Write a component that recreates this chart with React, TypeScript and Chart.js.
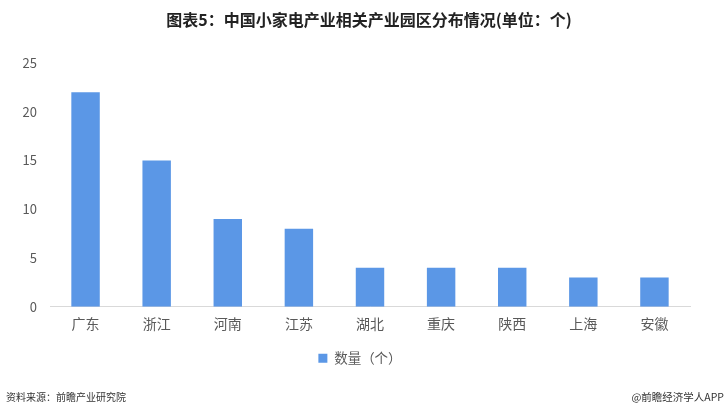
import React, { useEffect, useRef } from "react";
import { Chart, registerables } from "chart.js";

Chart.register(...registerables);

const categories = ["广东", "浙江", "河南", "江苏", "湖北", "重庆", "陕西", "上海", "安徽"];
const counts = [22, 15, 9, 8, 4, 4, 4, 3, 3];
const yTicks = [0, 5, 10, 15, 20, 25];
const seriesLabel = "数量（个）";
const titleText = "图表5：中国小家电产业相关产业园区分布情况(单位：个)";
const sourceText = "资料来源：前瞻产业研究院";
const brandText = "@前瞻经济学人APP";

const FONT = "'Noto Sans CJK SC', 'Microsoft YaHei', sans-serif";

export default function App() {
  const ref = useRef<HTMLCanvasElement | null>(null);
  useEffect(() => {
    document.body.style.margin = "0";
    const canvas = ref.current!;
    const textPlugin = {
      id: "texts",
      afterLayout(chart: any) {
        const lg = chart.legend;
        if (lg) {
          lg.left += 15;
          lg.right += 15;
        }
      },
      afterDraw(chart: any) {
        const ctx = chart.ctx;
        ctx.save();
        ctx.fillStyle = "#222";
        ctx.font = `bold 16px ${FONT}`;
        ctx.textAlign = "center";
        ctx.textBaseline = "middle";
        ctx.fillText(titleText, 369, 20);
        ctx.font = `10px ${FONT}`;
        ctx.fillStyle = "#333";
        ctx.textAlign = "left";
        ctx.fillText(sourceText, 6, 397);
        ctx.font = `10.5px ${FONT}`;
        ctx.textAlign = "right";
        ctx.fillText(brandText, 724, 397);
        ctx.restore();
      },
    };
    const chart = new Chart(canvas, {
      type: "bar",
      data: {
        labels: categories,
        datasets: [
          {
            label: seriesLabel,
            data: counts,
            backgroundColor: "#5B97E6",
            barPercentage: 0.4,
            categoryPercentage: 1,
          },
        ],
      },
      options: {
        responsive: false,
        animation: false,
        layout: { padding: { top: 63, right: 37, left: 0, bottom: 44 } },
        plugins: {
          legend: {
            position: "bottom",
            labels: {
              boxWidth: 9,
              boxHeight: 9,
              color: "#595959",
              font: { family: FONT, size: 13.5 },
              padding: 10,
            },
          },
          tooltip: { enabled: false },
        },
        scales: {
          x: {
            grid: { display: false, drawTicks: false },
            border: { display: true, color: "#d9d9d9" },
            ticks: { color: "#595959", font: { family: FONT, size: 14 }, padding: 9 },
          },
          y: {
            min: 0,
            max: 25,
            afterBuildTicks(axis: any) {
              axis.ticks = yTicks.map((v) => ({ value: v }));
            },
            afterFit(axis: any) {
              axis.width = 50;
            },
            grid: { display: false, drawTicks: false },
            border: { display: false },
            ticks: { color: "#595959", font: { family: FONT, size: 13 }, padding: 13 },
          },
        },
      },
      plugins: [textPlugin],
    } as any);
    return () => chart.destroy();
  }, []);
  return <canvas ref={ref} width={727} height={419} style={{ display: "block" }} />;
}
